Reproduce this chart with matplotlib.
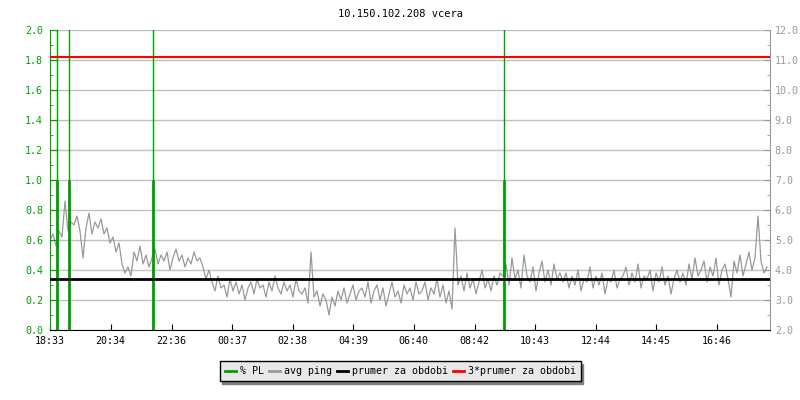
import numpy as np
import matplotlib
matplotlib.use("Agg")
import matplotlib.pyplot as plt
from matplotlib.lines import Line2D
from matplotlib.ticker import MultipleLocator, FormatStrFormatter

plt.rcParams['font.family'] = ['DejaVu Sans Mono']

title = "10.150.102.208 vcera"

# time axis in minutes from 18:33
span_min = 1440
sample_min = 6
tick_min = [0, 121, 243, 364, 485, 606, 727, 849, 970, 1091, 1212, 1333]
tick_labels = ["18:33", "20:34", "22:36", "00:37", "02:38", "04:39",
               "06:40", "08:42", "10:43", "12:44", "14:45", "16:46"]

# avg ping [ms], one sample every 6 minutes
ping_ms = (
    [5.0, 5.2, 4.8, 5.3, 5.1, 6.3, 5.3, 5.6]
    + [5.5, 5.8, 5.3, 4.4, 5.4, 5.9, 5.2, 5.6, 5.4, 5.7]
    + [5.2, 5.4, 4.9, 5.1, 4.6, 4.9, 4.2, 3.9, 4.1, 3.8]
    + [4.6, 4.3, 4.8, 4.2, 4.5, 4.1, 4.4, 4.7, 4.2, 4.5, 4.3, 4.6,
       4.0, 4.4, 4.7, 4.3, 4.5, 4.1, 4.4, 4.2, 4.6, 4.3, 4.4]
    + [4.1, 3.7, 4.0]
    + [3.6, 3.3, 3.8, 3.4, 3.5, 3.1, 3.7, 3.3, 3.6, 3.2, 3.5, 3.0, 3.4, 3.6, 3.2,
       3.7, 3.4, 3.5, 3.1, 3.6, 3.3, 3.8, 3.4, 3.2, 3.6, 3.3, 3.5, 3.1, 3.7, 3.3]
    + [3.2, 3.4, 2.9, 4.6, 3.1, 3.3, 2.8, 3.2, 3.0, 2.5,
       3.1, 2.8, 3.3, 3.0, 3.4, 2.9, 3.2, 3.5, 3.0, 3.3]
    + [3.4, 3.1, 3.6, 2.9, 3.3, 3.5, 3.0, 3.4, 2.8, 3.2,
       3.6, 3.1, 3.3, 2.9, 3.5, 3.2, 3.4, 3.0, 3.6, 3.2]
    + [3.3, 3.6, 3.0, 3.4, 3.2, 3.7, 3.1, 3.5, 2.9, 3.3, 2.7, 5.4]
    + [3.5, 3.8, 3.3, 3.9, 3.4, 3.7, 3.2, 3.6, 4.0, 3.4, 3.7, 3.3, 3.8, 3.5, 3.9]
    + [3.8, 4.2, 3.5, 4.4, 3.7, 4.0, 3.4, 4.5, 3.8, 3.6,
       4.1, 3.3, 3.9, 4.3, 3.6, 4.0, 3.5, 4.2, 3.7, 3.9]
    + [3.6, 3.9, 3.4, 3.8, 3.5, 4.0, 3.3, 3.7, 3.6, 4.1,
       3.4, 3.8, 3.5, 3.9, 3.2, 3.7, 3.6, 4.0, 3.4, 3.7]
    + [3.8, 4.1, 3.5, 3.9, 3.6, 4.2, 3.4, 3.8, 3.7, 4.0, 3.3, 3.9, 3.6,
       4.1, 3.5, 3.8, 3.2, 3.7, 4.0, 3.6, 3.9, 3.5, 4.2, 3.7, 4.4, 3.8]
    + [4.0, 4.3, 3.6, 4.1, 3.8, 4.4, 3.5, 4.0, 4.2, 3.7, 3.1, 4.3,
       3.9, 4.5, 3.8, 4.2, 4.6, 4.0, 4.4, 5.8, 4.3, 3.9, 4.1]
)
ping_t = np.arange(len(ping_ms)) * sample_min

# packet loss events
pl_t = [14, 37, 205, 908]
pl_loss = [1.0, 1.0, 1.0, 1.0]
pl_peak = [100.0, 100.0, 100.0, 100.0]

avg_ms = 3.7
avg3_ms = 3 * avg_ms

green = '#00a000'
gray = '#999999'
red = '#ff0000'
fs = 7.2

fig = plt.figure(figsize=(8, 4), dpi=100)
rect = [50 / 800, 70 / 400, 720 / 800, 300 / 400]
ax_pl = fig.add_axes(rect)
ax_ping = ax_pl.twinx()
ax_avg = ax_pl.twinx()
ax_ping.set_zorder(1)
ax_pl.set_zorder(2)
ax_avg.set_zorder(3)
ax_pl.patch.set_visible(False)
ax_avg.patch.set_visible(False)

# ping on the right scale
ax_ping.plot(ping_t, ping_ms, color=gray, lw=0.9)
ax_ping.set_ylim(2, 12)
ax_ping.yaxis.set_major_locator(MultipleLocator(1))
ax_ping.yaxis.set_minor_locator(MultipleLocator(0.5))
ax_ping.yaxis.set_major_formatter(FormatStrFormatter('%.1f'))
ax_ping.grid(axis='y', color='#c0c0c0', lw=1)
ax_ping.tick_params(axis='y', which='both', direction='in', colors=gray,
                    labelsize=fs, pad=3.5)
ax_ping.tick_params(axis='y', which='major', length=4)
ax_ping.tick_params(axis='y', which='minor', length=2.5)
for s in ['left', 'top', 'bottom']:
    ax_ping.spines[s].set_visible(False)
ax_ping.spines['right'].set_color(gray)

# packet loss on the left scale
ax_pl.vlines(pl_t, 0, pl_peak, color=green, lw=1)
ax_pl.vlines(pl_t, 0, pl_loss, color=green, lw=2)
ax_pl.set_ylim(0, 2)
ax_pl.set_xlim(0, span_min)
ax_pl.yaxis.set_major_locator(MultipleLocator(0.2))
ax_pl.yaxis.set_minor_locator(MultipleLocator(0.1))
ax_pl.yaxis.set_major_formatter(FormatStrFormatter('%.1f'))
ax_pl.tick_params(axis='y', which='both', direction='in', colors=green,
                  labelsize=fs, pad=5)
ax_pl.tick_params(axis='y', which='major', length=5)
ax_pl.tick_params(axis='y', which='minor', length=2.5)
ax_pl.set_xticks(tick_min)
ax_pl.set_xticklabels(tick_labels)
ax_pl.tick_params(axis='x', direction='in', length=4, colors='black',
                  labelsize=fs, pad=4)
for s in ['top', 'right']:
    ax_pl.spines[s].set_visible(False)
ax_pl.spines['left'].set_color(green)
ax_pl.spines['bottom'].set_color('black')

# period average lines
ax_avg.set_ylim(2, 12)
ax_avg.axhline(avg_ms, color='black', lw=2)
ax_avg.axhline(avg3_ms, color=red, lw=1.5)
ax_avg.set_axis_off()

fig.text(0.5, 1 - 14 / 400, title, ha='center', va='center', fontsize=7.5)

handles = [Line2D([], [], color=green, lw=2),
           Line2D([], [], color=gray, lw=2),
           Line2D([], [], color='black', lw=2),
           Line2D([], [], color=red, lw=2)]
labels = ["% PL", "avg ping", "prumer za obdobi", "3*prumer za obdobi"]
leg = fig.legend(handles, labels, loc='center', bbox_to_anchor=(0.5, 1 - 371 / 400),
                 ncol=4, fontsize=fs, fancybox=False, edgecolor='black',
                 facecolor='#e8e8e8', framealpha=1,
                 shadow={'color': '#808080', 'alpha': 1},
                 handlelength=1.1, handletextpad=0.4, columnspacing=0.5,
                 borderpad=0.5, borderaxespad=0)
leg.get_frame().set_linewidth(1)

fig.savefig('out.png', dpi=100)
